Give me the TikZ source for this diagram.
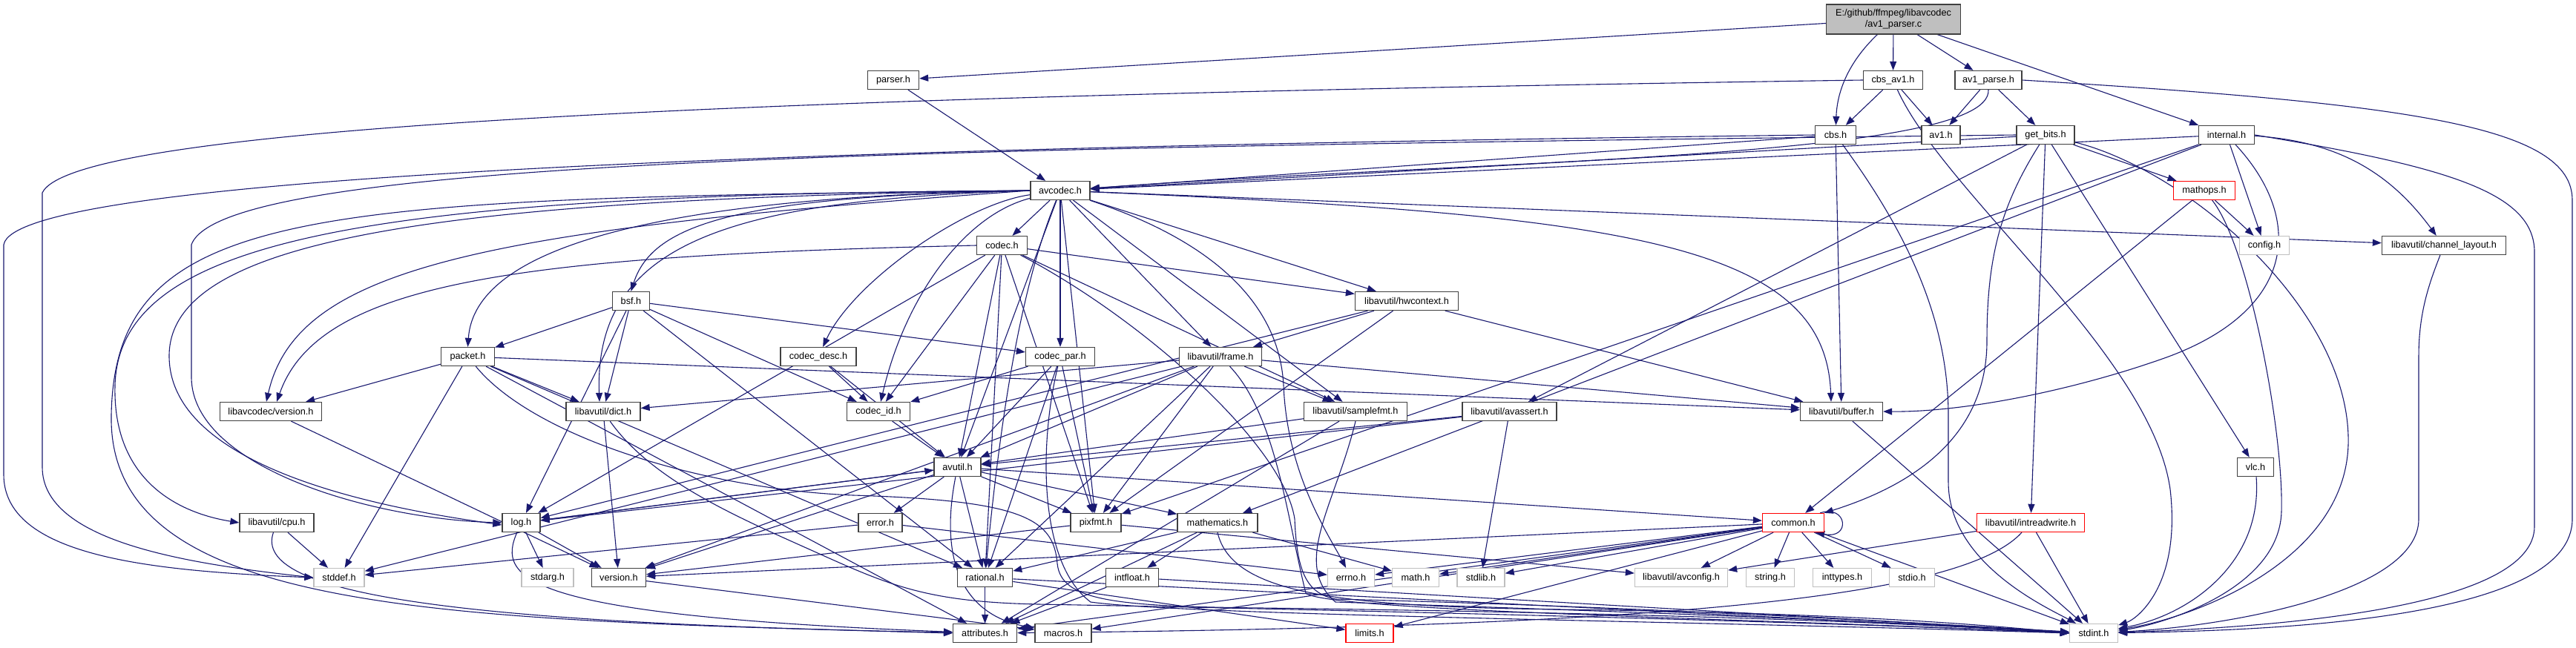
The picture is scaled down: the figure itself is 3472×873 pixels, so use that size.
\documentclass[tikz,border=0pt]{standalone}
\usepackage{fontspec}
\setmainfont{Liberation Sans}
\usetikzlibrary{arrows.meta}
\definecolor{edgec}{HTML}{191970}
\definecolor{greyb}{HTML}{BFBFBF}
\definecolor{nodeb}{HTML}{404040}
\pgfdeclarelayer{paper}
\pgfdeclarelayer{bg}
\pgfsetlayers{paper,bg,main}
\tikzset{
 nb/.style={draw=nodeb, fill=white, line width=1.3pt, minimum height=25pt, inner sep=0pt, font=\fontsize{12.7}{15}\selectfont, text=black},
 ng/.style={nb, draw=greyb},
 nr/.style={nb, draw=red},
 edg/.style={draw=edgec, line width=1.1pt, -{Triangle[length=12pt,width=9pt]}},
}
\begin{document}
\begin{tikzpicture}[x=1pt,y=-1pt]
\useasboundingbox (0,0) rectangle (3472,873);
\begin{pgfonlayer}{paper}
\fill[white] (0,0) rectangle (3472,873);
\end{pgfonlayer}
% nodes
\node[nb, fill=greyb, minimum width=181pt, minimum height=40pt, align=center] (main) at (2552,26) {E:/github/ffmpeg/libavcodec\\/av1\_parser.c};
\node[nb, minimum width=69pt] (parser) at (1204,108) {parser.h};
\node[nb, minimum width=80pt] (cbsav1) at (2551.5,108) {cbs\_av1.h};
\node[nb, minimum width=90pt] (avparse) at (2680,108) {av1\_parse.h};
\node[nb, minimum width=55pt] (cbs) at (2474,182) {cbs.h};
\node[nb, minimum width=52pt] (avone) at (2616,182) {av1.h};
\node[nb, minimum width=78pt] (getbits) at (2757,182) {get\_bits.h};
\node[nb, minimum width=75pt] (internal) at (3001,182) {internal.h};
\node[nb, minimum width=80pt] (avcodec) at (1429,257) {avcodec.h};
\node[nr, minimum width=83pt] (mathops) at (2971,257) {mathops.h};
\node[nb, minimum width=68pt] (codec) at (1350.5,331) {codec.h};
\node[ng, minimum width=67pt] (config) at (3052,331) {config.h};
\node[nb, minimum width=167pt] (chlayout) at (3294,331) {libavutil/channel\_layout.h};
\node[nb, minimum width=50pt] (bsf) at (850.5,406) {bsf.h};
\node[nb, minimum width=139pt] (hwctx) at (1896,406) {libavutil/hwcontext.h};
\node[nb, minimum width=72pt] (packet) at (630.5,481) {packet.h};
\node[nb, minimum width=102pt] (codecdesc) at (1103,481) {codec\_desc.h};
\node[nb, minimum width=93pt] (codecpar) at (1429,481) {codec\_par.h};
\node[nb, minimum width=111pt] (frame) at (1645,481) {libavutil/frame.h};
\node[nb, minimum width=137pt] (lavcver) at (365,555) {libavcodec/version.h};
\node[nb, minimum width=100pt] (dict) at (813,555) {libavutil/dict.h};
\node[nb, minimum width=85pt] (codecid) at (1184,555) {codec\_id.h};
\node[nb, minimum width=139pt] (samplefmt) at (1827,555) {libavutil/samplefmt.h};
\node[nb, minimum width=127pt] (avassert) at (2034.5,555) {libavutil/avassert.h};
\node[nb, minimum width=111pt] (buffer) at (2482,555) {libavutil/buffer.h};
\node[nb, minimum width=63pt] (avutil) at (1290.5,630) {avutil.h};
\node[nb, minimum width=49pt] (vlc) at (3040,630) {vlc.h};
\node[nb, minimum width=100pt] (cpu) at (373,705) {libavutil/cpu.h};
\node[nb, minimum width=51pt] (log) at (702.5,705) {log.h};
\node[nb, minimum width=59pt] (error) at (1186.5,705) {error.h};
\node[nb, minimum width=68pt] (pixfmt) at (1477,705) {pixfmt.h};
\node[nb, minimum width=108pt] (mathem) at (1641,705) {mathematics.h};
\node[nr, minimum width=83pt] (common) at (2417,705) {common.h};
\node[nr, minimum width=145pt] (intrw) at (2737,705) {libavutil/intreadwrite.h};
\node[ng, minimum width=68pt] (stddef) at (457,779) {stddef.h};
\node[ng, minimum width=70pt] (stdarg) at (738,779) {stdarg.h};
\node[nb, minimum width=73pt] (version) at (834,779) {version.h};
\node[nb, minimum width=74pt] (rational) at (1327.6,779) {rational.h};
\node[nb, minimum width=71pt] (intfloat) at (1526,779) {intfloat.h};
\node[ng, minimum width=63pt] (errno) at (1821,779) {errno.h};
\node[ng, minimum width=63pt] (mathh) at (1908,779) {math.h};
\node[ng, minimum width=64pt] (stdlib) at (1996,779) {stdlib.h};
\node[ng, minimum width=125pt] (avconfig) at (2266,779) {libavutil/avconfig.h};
\node[ng, minimum width=65pt] (string) at (2386,779) {string.h};
\node[ng, minimum width=79pt] (inttypes) at (2483,779) {inttypes.h};
\node[ng, minimum width=61pt] (stdio) at (2577,779) {stdio.h};
\node[nb, minimum width=86pt] (attributes) at (1327.6,854) {attributes.h};
\node[nb, minimum width=76pt] (macros) at (1433,854) {macros.h};
\node[nr, minimum width=64pt] (limits) at (1846,854) {limits.h};
\node[ng, minimum width=65pt] (stdint) at (2822,854) {stdint.h};
\begin{pgfonlayer}{bg}
% main
\draw[edg] (main) -- (parser);
\draw[edg] (main) -- (cbsav1);
\draw[edg] (main) -- (avparse);
\draw[edg] (main) .. controls (2490,85) and (2476,125) .. (cbs);
\draw[edg] (main) -- (internal);
% parser
\draw[edg] (parser) -- (avcodec);
% cbs_av1
\draw[edg] (cbsav1.west) .. controls (1000,130) and (100,170) .. (57,260) -- (57,630) .. controls (57,730) and (250,760) .. (stddef.west);
\draw[edg] (cbsav1) .. controls (2620,260) and (2900,480) .. (2925,660) .. controls (2940,790) and (2880,835) .. (stdint);
\draw[edg] (cbsav1) -- (avone);
\draw[edg] (cbsav1) -- (cbs);
% av1_parse
\draw[edg] (avparse) -- (avone);
\draw[edg] (avparse) -- (getbits);
\draw[edg] (avparse.south) .. controls (2685,215) and (2000,215) .. (avcodec);
\draw[edg] (avparse.east) .. controls (3250,140) and (3467,170) .. (3467,270) -- (3467,700) .. controls (3467,830) and (3100,850) .. (stdint);
% cbs
\draw[edg] (cbs.west) .. controls (1000,200) and (20,240) .. (5,330) -- (5,640) .. controls (5,750) and (200,770) .. (stddef.west);
\draw[edg] (cbs) .. controls (2560,300) and (2626,420) .. (2626,560) -- (2626,650) .. controls (2626,760) and (2760,820) .. (stdint);
\draw[edg] (cbs) -- (buffer);
\draw[edg] (cbs) -- (avcodec);
% get_bits
\draw[edg] (getbits) .. controls (2950,230) and (3170,420) .. (3165,600) .. controls (3160,760) and (2950,835) .. (stdint);
\draw[edg] (getbits) .. controls (2695,280) and (2678,350) .. (2678,460) .. controls (2678,600) and (2560,660) .. (common);
\draw[edg] (getbits) -- (intrw);
\draw[edg] (getbits.west) .. controls (1200,200) and (300,215) .. (258,330) -- (258,510) .. controls (260,630) and (500,700) .. (log.west);
\draw[edg] (getbits) -- (avassert);
\draw[edg] (getbits) -- (avcodec);
\draw[edg] (getbits) -- (mathops);
\draw[edg] (getbits) -- (vlc);
% internal
\draw[edg] (internal.east) .. controls (3300,225) and (3416,260) .. (3416,340) -- (3416,710) .. controls (3416,815) and (3100,845) .. (stdint);
\draw[edg] (internal) .. controls (3110,300) and (3090,420) .. (2920,482) .. controls (2800,525) and (2650,556) .. (buffer.east);
\draw[edg] (internal) to[bend left=25] (chlayout);
\draw[edg] (internal) -- (mathem);
\draw[edg] (internal) -- (pixfmt);
\draw[edg] (internal) -- (avcodec);
\draw[edg] (internal) -- (config);
% avcodec
\draw[edg] (avcodec) .. controls (1650,330) and (1725,420) .. (1730,520) .. controls (1735,640) and (1790,720) .. (errno);
\draw[edg] (avcodec) -- (samplefmt);
\draw[edg] (avcodec.west) .. controls (420,268) and (155,275) .. (150,560) .. controls (145,830) and (600,835) .. (attributes.west);
\draw[edg] (avcodec) -- (avutil);
\draw[edg] (avcodec) .. controls (2200,290) and (2460,330) .. ([xshift=-14pt]buffer.north);
\draw[edg] (avcodec.west) .. controls (500,262) and (160,320) .. (155,520) .. controls (152,640) and (230,690) .. (cpu.west);
\draw[edg] (avcodec) -- (chlayout);
\draw[edg] (avcodec.west) .. controls (1000,270) and (800,320) .. ([xshift=-5pt]dict.north);
\draw[edg] (avcodec) -- (frame);
\draw[edg] (avcodec) -- (hwctx);
\draw[edg] (avcodec.west) .. controls (600,268) and (228,320) .. (228,480) .. controls (228,640) and (550,690) .. ([yshift=-3pt]log.west);
\draw[edg] (avcodec) -- (pixfmt);
\draw[edg] (avcodec) .. controls (1370,400) and (1345,600) .. (rational);
\draw[edg] (avcodec.west) .. controls (1000,265) and (880,300) .. (bsf.north);
\draw[edg] (avcodec) -- (codec);
\draw[edg] (avcodec) .. controls (1300,275) and (1150,380) .. (codecdesc);
\draw[edg] (avcodec) -- (codecpar);
\draw[edg] (avcodec) .. controls (1300,290) and (1220,400) .. (codecid);
\draw[edg] (avcodec.west) .. controls (900,265) and (640,330) .. (packet.north);
\draw[edg] (avcodec.west) .. controls (650,310) and (400,360) .. ([xshift=-6pt]lavcver.north);
% mathops
\draw[edg] (mathops) .. controls (3030,330) and (3078,580) .. (3075,690) .. controls (3072,800) and (2900,845) .. (stdint);
\draw[edg] (mathops) -- (common);
\draw[edg] (mathops) -- (config);
% codec
\draw[edg] (codec) .. controls (1540,430) and (1730,600) .. (1745,700) .. controls (1748,770) and (1760,800) .. (1800,808) .. controls (2200,818) and (2600,840) .. (stdint.west);
\draw[edg] (codec) -- (avutil);
\draw[edg] (codec) -- (hwctx);
\draw[edg] (codec) -- (log);
\draw[edg] (codec) -- (pixfmt);
\draw[edg] (codec) -- (rational);
\draw[edg] (codec) -- (samplefmt);
\draw[edg] (codec) -- (codecid);
\draw[edg] (codec.west) .. controls (700,345) and (430,380) .. ([xshift=8pt]lavcver.north);
% channel_layout
\draw[edg] (chlayout) .. controls (3275,380) and (3260,420) .. (3260,480) -- (3260,700) .. controls (3260,800) and (3000,845) .. (stdint);
% bsf
\draw[edg] (bsf) -- (dict);
\draw[edg] (bsf) -- (log);
\draw[edg] (bsf) -- (rational);
\draw[edg] (bsf) -- (codecid);
\draw[edg] (bsf) -- (codecpar);
\draw[edg] (bsf) -- (packet);
% hwcontext
\draw[edg] (hwctx) -- (buffer);
\draw[edg] (hwctx) -- (frame);
\draw[edg] (hwctx) -- (log);
\draw[edg] (hwctx) -- (pixfmt);
% packet
\draw[edg] (packet) -- (stddef);
\draw[edg] (packet) .. controls (720,590) and (950,660) .. (1150,668) .. controls (1380,675) and (1420,700) .. (1425,760) .. controls (1430,810) and (1500,818) .. (1700,820) .. controls (2300,828) and (2600,842) .. (stdint.west);
\draw[edg] (packet) -- (attributes);
\draw[edg] (packet) -- (buffer);
\draw[edg] (packet) -- (dict);
\draw[edg] (packet) -- (rational);
\draw[edg] (packet) -- (lavcver);
% codec_desc
\draw[edg] (codecdesc) -- (avutil);
\draw[edg] (codecdesc) -- (codecid);
% codec_par
\draw[edg] (codecpar) .. controls (1400,600) and (1400,760) .. (1470,812) .. controls (1600,830) and (2300,838) .. (stdint.west);
\draw[edg] (codecpar) -- (avutil);
\draw[edg] (codecpar) -- (rational);
\draw[edg] (codecpar) -- (pixfmt);
\draw[edg] (codecpar) -- (codecid);
% frame
\draw[edg] (frame) -- (stddef);
\draw[edg] (frame) .. controls (1720,560) and (1735,700) .. (1760,800) .. controls (1790,825) and (2400,835) .. (stdint.west);
\draw[edg] (frame) -- (avutil);
\draw[edg] (frame) -- (buffer);
\draw[edg] (frame) -- (dict);
\draw[edg] (frame) -- (rational);
\draw[edg] (frame) -- (samplefmt);
\draw[edg] (frame) -- (pixfmt);
\draw[edg] (frame) -- (version);
% libavcodec/version
\draw[edg] (lavcver) -- (version);
% dict
\draw[edg] (dict) .. controls (880,650) and (1000,700) .. (1100,745) .. controls (1200,790) and (1250,812) .. (1400,815) .. controls (1800,822) and (2500,840) .. (stdint.west);
\draw[edg] (dict) -- (version);
% codec_id
\draw[edg] (codecid) -- (avutil);
% samplefmt
\draw[edg] (samplefmt.south) .. controls (1800,680) and (1740,760) .. (1800,812) .. controls (2200,825) and (2600,840) .. (stdint.west);
\draw[edg] (samplefmt) -- (avutil);
\draw[edg] (samplefmt) -- (attributes);
% avassert
\draw[edg] (avassert) -- (stdlib);
\draw[edg] (avassert) -- (avutil);
\draw[edg] (avassert) -- (log);
% buffer
\draw[edg] (buffer) -- (stdint);
% avutil
\draw[edg] (avutil) -- (common);
\draw[edg] (avutil) -- (error);
\draw[edg] (avutil) -- (rational);
\draw[edg] (avutil) -- (version);
\draw[edg] (avutil) .. controls (1265,760) and (1300,830) .. (macros);
\draw[edg] (avutil) -- (mathem);
\draw[edg] (avutil) -- (log);
\draw[edg] (avutil) -- (pixfmt);
% vlc
\draw[edg] (vlc) .. controls (3050,760) and (2950,830) .. (stdint);
% cpu
\draw[edg] (cpu) -- (stddef);
\draw[edg] (cpu) .. controls (340,800) and (600,840) .. (attributes);
% log
\draw[edg] (log) -- (stdarg);
\draw[edg] (log) -- (avutil);
\draw[edg] (log) .. controls (670,780) and (700,830) .. (attributes);
\draw[edg] (log) -- (version);
% error
\draw[edg] (error) -- (errno);
\draw[edg] (error) -- (stddef);
% pixfmt
\draw[edg] (pixfmt) -- (avconfig);
\draw[edg] (pixfmt) -- (version);
% mathematics
\draw[edg] (mathem.south) .. controls (1660,800) and (1800,818) .. (2100,822) .. controls (2450,826) and (2650,840) .. (stdint.west);
\draw[edg] (mathem) -- (mathh);
\draw[edg] (mathem) -- (attributes);
\draw[edg] (mathem) -- (rational);
\draw[edg] (mathem) -- (intfloat);
% common
\draw[edg] (common) -- (errno);
\draw[edg] (common) -- (inttypes);
\draw[edg] (common) -- (limits);
\draw[edg] (common) -- (mathh);
\draw[edg] (common) -- (stdint);
\draw[edg] (common) -- (stdio);
\draw[edg] (common) -- (stdlib);
\draw[edg] (common) -- (string);
\draw[edg] (common) -- (attributes);
\draw[edg] (common) -- (macros);
\draw[edg] (common) -- (version);
\draw[edg] (common) -- (avconfig);
\draw[edg] ([xshift=-6pt]common.north east) .. controls (2490,680) and (2495,728) .. ([xshift=-12pt]common.south east);
% intreadwrite
\draw[edg] (intrw) -- (avconfig);
\draw[edg] (intrw) .. controls (2650,800) and (2300,845) .. (attributes);
\draw[edg] (intrw) -- (stdint);
% version
\draw[edg] (version) -- (macros);
% rational
\draw[edg] (rational) -- (stdint);
\draw[edg] (rational) -- (limits);
\draw[edg] (rational) -- (attributes);
% intfloat
\draw[edg] (intfloat) -- (stdint);
\draw[edg] (intfloat) -- (attributes);
\end{pgfonlayer}
\end{tikzpicture}
\end{document}
